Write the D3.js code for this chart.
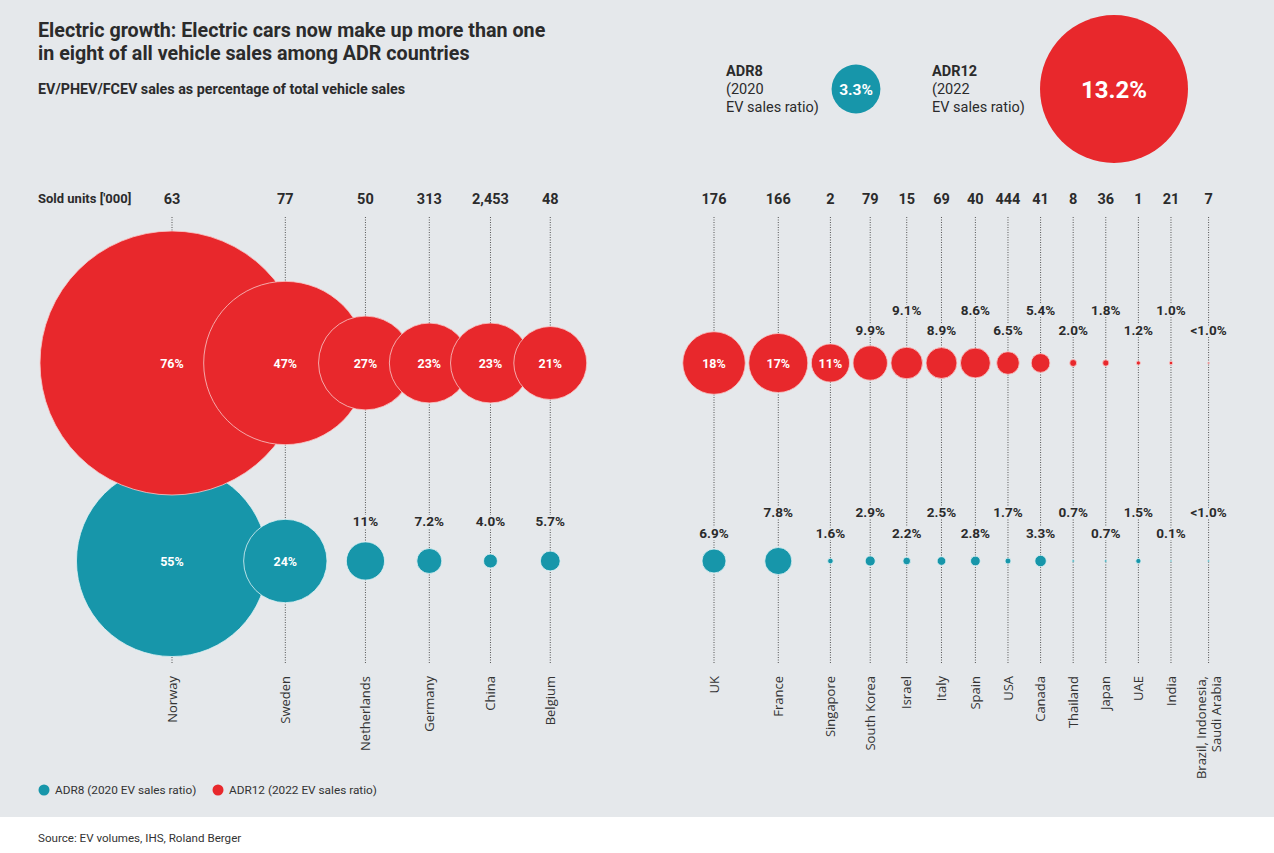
<!DOCTYPE html>
<html>
<head>
<meta charset="utf-8">
<script src="https://cdn.jsdelivr.net/npm/d3@7"></script>
<style>
  html, body { margin: 0; padding: 0; background: #fff; }
  svg { display: block; }
</style>
</head>
<body>
<svg id="chart"></svg>
<script>
// data
const countries = ["Norway", "Sweden", "Netherlands", "Germany", "China", "Belgium",
  "UK", "France", "Singapore", "South Korea", "Israel", "Italy", "Spain", "USA",
  "Canada", "Thailand", "Japan", "UAE", "India", "Brazil, Indonesia, Saudi Arabia"];
const soldUnits = ["63", "77", "50", "313", "2,453", "48",
  "176", "166", "2", "79", "15", "69", "40", "444", "41", "8", "36", "1", "21", "7"];
// ADR12, 2022 EV sales ratio (%)
const ratio2022 = [76, 47, 27, 23, 23, 21, 18, 17, 11, 9.9, 9.1, 8.9, 8.6, 6.5, 5.4, 2.0, 1.8, 1.2, 1.0, 0.5];
// ADR8, 2020 EV sales ratio (%)
const ratio2020 = [55, 24, 11, 7.2, 4.0, 5.7, 6.9, 7.8, 1.6, 2.9, 2.2, 2.5, 2.8, 1.7, 3.3, 0.7, 0.7, 1.5, 0.1, 0.5];
// shown as "<1.0%"
const underOne = ["Brazil, Indonesia, Saudi Arabia"];
const leaderCount = 6; // first group, drawn overlapping
const totals = [
  { key: "ADR8", year: "(2020", note: "EV sales ratio)", value: 3.3 },
  { key: "ADR12", year: "(2022", note: "EV sales ratio)", value: 13.2 }
];

const width = 1274, height = 853;
const RED = "#e8282c", BLUE = "#1796aa", BG = "#e5e8eb", INK = "#2b2b2b";
const redY = 363, blueY = 561;

const svg = d3.select("#chart").attr("width", width).attr("height", height);

svg.append("rect").attr("width", width).attr("height", 817).attr("fill", BG);

// radius scale, linear in percent
const r = d3.scaleLinear().domain([0, 76]).range([0, 132]);

// column positions: leaders overlap, the rest sit side by side
const xs = [];
countries.forEach((c, i) => {
  if (i === 0) xs.push(172);
  else if (i < leaderCount) xs.push(xs[i - 1] + 30 + 0.39 * (r(ratio2022[i - 1]) + r(ratio2022[i])));
  else if (i === leaderCount) xs.push(714);
  else {
    const extra = c.includes(",") ? 5 : 0;
    xs.push(xs[i - 1] + Math.max(32.6, r(ratio2022[i - 1]) + r(ratio2022[i]) + 3.5) + extra);
  }
});

const fmt = (v, c) => underOne.includes(c) ? "<1.0%" : (v >= 10 ? d3.format(".0f")(v) : d3.format(".1f")(v)) + "%";

const rows = countries.map((c, i) => ({
  country: c, units: soldUnits[i], red: ratio2022[i], blue: ratio2020[i],
  x: xs[i], i, j: i - leaderCount, leader: i < leaderCount
}));

// titles
const title = svg.append("text").attr("x", 38).attr("y", 37)
  .attr("font-family", "Roboto").attr("font-weight", 700).attr("font-size", 19.7).attr("fill", INK);
title.append("tspan").attr("x", 38).attr("dy", 0).text("Electric growth: Electric cars now make up more than one");
title.append("tspan").attr("x", 38).attr("dy", 23).text("in eight of all vehicle sales among ADR countries");

svg.append("text").attr("x", 38).attr("y", 94)
  .attr("font-family", "Roboto").attr("font-weight", 700).attr("font-size", 14.3).attr("fill", INK)
  .text("EV/PHEV/FCEV sales as percentage of total vehicle sales");

// totals, top right
const rt = d3.scalePow().exponent(0.8).domain([0, 13.2]).range([0, 74]);
const totalX = d3.scaleOrdinal().domain(totals.map(d => d.key)).range([726, 932]);
const totalG = svg.selectAll(".total").data(totals).enter().append("g")
  .attr("transform", d => `translate(${totalX(d.key)},0)`)
  .attr("font-family", "Roboto").attr("fill", INK).attr("font-size", 14.5);
totalG.append("text").attr("y", 76).attr("font-weight", 700).text(d => d.key);
totalG.append("text").attr("y", 94).text(d => d.year);
totalG.append("text").attr("y", 112).text(d => d.note);
totalG.append("circle")
  .attr("cx", d => d.key === "ADR8" ? 130 : 182)
  .attr("cy", 89).attr("r", d => rt(d.value))
  .attr("fill", (d, i) => i === 0 ? BLUE : RED);
totalG.append("text")
  .attr("x", d => d.key === "ADR8" ? 130 : 182).attr("y", 89).attr("dy", "0.36em")
  .attr("text-anchor", "middle").attr("fill", "#fff").attr("font-weight", 700)
  .attr("font-size", d => d.key === "ADR8" ? 15.5 : 24)
  .text(d => d3.format(".1f")(d.value) + "%");

// sold units header
svg.append("text").attr("x", 38).attr("y", 203)
  .attr("font-family", "Roboto").attr("font-weight", 700).attr("font-size", 13).attr("fill", INK)
  .text("Sold units ['000]");

const col = svg.selectAll(".col").data(rows).enter().append("g").attr("class", "col");

col.append("text").attr("x", d => d.x).attr("y", 204)
  .attr("text-anchor", "middle").attr("font-family", "Roboto").attr("font-weight", 700)
  .attr("font-size", 14.5).attr("fill", INK).text(d => d.units);

col.append("line")
  .attr("x1", d => d.x).attr("x2", d => d.x).attr("y1", 217).attr("y2", 664)
  .attr("stroke", "#555").attr("stroke-width", 1).attr("stroke-dasharray", "1,1.5");

// country labels, rotated
const lab = col.append("text")
  .attr("transform", d => `translate(${d.x},676) rotate(-90)`)
  .attr("text-anchor", "end").attr("font-family", "Open Sans").attr("font-size", 13).attr("fill", "#333");
lab.each(function (d) {
  const parts = d.country.includes(",") ? ["Brazil, Indonesia,", "Saudi Arabia"] : [d.country];
  const t = d3.select(this);
  parts.forEach((p, k) => t.append("tspan").attr("x", 0)
    .attr("y", (k - (parts.length - 1) / 2) * 15).attr("dy", "0.36em").text(p));
});

// circles: blue row first, red row over it
svg.selectAll(".blue").data(rows).enter().append("circle")
  .attr("cx", d => d.x).attr("cy", blueY).attr("r", d => Math.max(1, r(d.blue)))
  .attr("fill", BLUE).attr("stroke", "#dff1f4").attr("stroke-width", 0.8);

svg.selectAll(".red").data(rows).enter().append("circle")
  .attr("cx", d => d.x).attr("cy", redY).attr("r", d => r(d.red))
  .attr("fill", RED).attr("stroke", "#f7c9c9").attr("stroke-width", 0.8);

// value labels
function valueLabels(key, rowY, inside, outsideY) {
  svg.selectAll(".lab-" + key).data(rows).enter().append("text")
    .attr("x", d => d.x)
    .attr("y", d => d[key] >= inside ? rowY : outsideY(d))
    .attr("dy", "0.36em").attr("text-anchor", "middle")
    .attr("font-family", "Roboto").attr("font-weight", 700)
    .attr("font-size", d => d[key] >= inside ? 12.5 : 13.5)
    .attr("fill", d => d[key] >= inside ? "#fff" : INK)
    .attr("stroke", d => d[key] >= inside ? "none" : BG).attr("stroke-width", 4)
    .attr("paint-order", "stroke")
    .text(d => fmt(d[key], d.country));
}
valueLabels("red", redY, 11, d => d.j % 2 === 1 ? redY - 33 : redY - 53);
valueLabels("blue", blueY, 20, d => d.leader ? blueY - 40 : (d.j % 2 === 0 ? blueY - 28 : blueY - 49));

// legend
const legend = [{ label: "ADR8 (2020 EV sales ratio)", color: BLUE }, { label: "ADR12 (2022 EV sales ratio)", color: RED }];
const legX = d3.scaleOrdinal().domain(legend.map(d => d.label)).range([44, 218]);
const lg = svg.selectAll(".leg").data(legend).enter().append("g")
  .attr("transform", d => `translate(${legX(d.label)},790)`);
lg.append("circle").attr("r", 5.5).attr("fill", d => d.color);
lg.append("text").attr("x", 11).attr("dy", "0.36em")
  .attr("font-family", "Roboto").attr("font-size", 11.8).attr("fill", "#333").text(d => d.label);

svg.append("text").attr("x", 38).attr("y", 842)
  .attr("font-family", "Roboto").attr("font-size", 11.6).attr("fill", "#333")
  .text("Source: EV volumes, IHS, Roland Berger");
</script>
</body>
</html>
